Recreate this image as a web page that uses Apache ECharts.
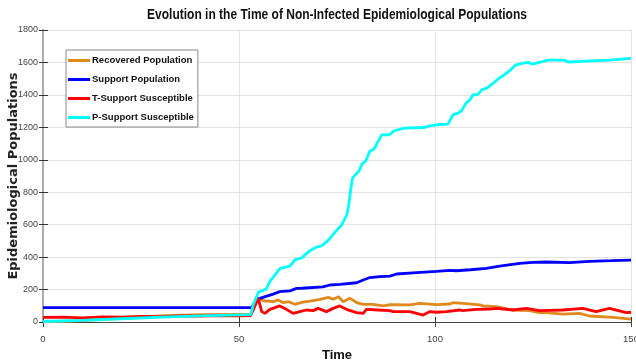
<!DOCTYPE html>
<html>
<head>
<meta charset="utf-8">
<script src="https://cdn.jsdelivr.net/npm/echarts@6/dist/echarts.min.js"></script>
<style>
html,body{margin:0;padding:0;background:#fff;}
#chart{width:636px;height:364px;}
</style>
</head>
<body>
<div id="chart"></div>
<script>
const chartTitle = 'Evolution in the Time of Non-Infected Epidemiological Populations';
const xName = 'Time';
const yName = 'Epidemiological Populations';
const seriesNames = ['Recovered Population', 'Support Population', 'T-Support Susceptible', 'P-Support Susceptible'];
const xTicks = [0, 50, 100, 150];
const yTicks = [0, 200, 400, 600, 800, 1000, 1200, 1400, 1600, 1800];

const recTime   = [0, 10, 20, 30, 40, 53, 54.9, 55.3, 56.2, 58.7, 60, 61.3, 62.6, 64.3, 66, 68.1, 70.7, 72.8, 74, 75.4, 76.6, 78.3, 80, 81.7, 84.2, 86.8, 88.5, 93.6, 96.1, 100.4, 103.8, 104.6, 107.1, 111.4, 112.3, 115.7, 119, 119.9, 124.1, 126.7, 128.4, 132.6, 136.9, 139.4, 145.4, 150];
const recValues = [0, 8, 22, 38, 46, 48, 145, 140, 131, 125, 136, 119, 125, 109, 121, 129, 140, 152, 140, 156, 125, 146, 120, 109, 109, 100, 107, 105, 115, 107, 111, 119, 115, 105, 99, 95, 78, 74, 70, 58, 58, 49, 53, 37, 29, 18];

const supTime   = [0, 53.2, 54.5, 55.3, 58.7, 60.4, 63, 64.7, 66, 71.4, 73.2, 75.7, 80, 81.7, 83.4, 85.9, 88.5, 90.2, 95.3, 100.4, 103.8, 105.4, 109, 113.1, 116.5, 121.6, 125, 128.4, 134.3, 139.4, 145, 150];
const supValues = [88, 88, 140, 146, 172, 187, 192, 207, 208, 216, 228, 232, 242, 259, 274, 280, 283, 296, 304, 312, 318, 316, 322, 331, 345, 362, 368, 370, 366, 374, 378, 382];

const tsTime   = [0, 5, 10, 15, 20, 25, 30, 35, 40, 45, 50, 53, 54.9, 55.8, 56.6, 57.9, 60.4, 62.1, 63.8, 65.5, 67.2, 68.9, 70.2, 72.3, 74, 75.7, 77.4, 80, 81.7, 82.5, 85.5, 88.5, 89.3, 93.6, 97, 98.7, 100.4, 102.9, 106.3, 107, 110.6, 114, 115.7, 119.9, 123.3, 126.7, 129.2, 132.6, 137.7, 141.1, 144.5, 148.8, 150];
const tsValues = [28, 30, 26, 32, 30, 35, 33, 38, 36, 40, 38, 40, 145, 64, 53, 78, 99, 78, 53, 64, 74, 70, 84, 64, 84, 99, 78, 58, 53, 78, 74, 70, 64, 64, 43, 64, 60, 64, 74, 70, 78, 80, 84, 74, 84, 70, 72, 74, 84, 64, 84, 58, 60];

const psTime   = [0, 10, 20, 30, 40, 53, 53.7, 55, 56.2, 57, 58, 58.7, 60.5, 62.2, 63, 64.3, 66, 68.1, 69.8, 71.1, 72.8, 74.9, 76.2, 77.5, 78, 78.5, 79, 80.6, 81.4, 82.3, 83.4, 84.4, 86.4, 88.3, 89.6, 92.2, 97.3, 98.6, 100.7, 103.3, 104.6, 105.9, 106.8, 107.9, 108.9, 109.7, 110.9, 111.9, 113.2, 114.9, 116.2, 117.5, 119.2, 120.5, 122.2, 123.9, 124.8, 126.9, 128.9, 132.9, 134.2, 138.5, 144.5, 150];
const psValues = [3, 10, 20, 30, 38, 45, 112, 185, 195, 205, 255, 275, 330, 340, 345, 385, 395, 440, 462, 470, 505, 565, 598, 660, 720, 820, 890, 930, 975, 992, 1054, 1065, 1154, 1154, 1179, 1195, 1199, 1209, 1216, 1220, 1278, 1287, 1303, 1349, 1369, 1401, 1402, 1431, 1442, 1473, 1500, 1521, 1552, 1583, 1594, 1600, 1589, 1602, 1614, 1614, 1602, 1608, 1614, 1625];

const colors = ['#E08A1E', '#0000FF', '#FF0000', '#00FFFF'];

function pairs(t, v) { return t.map((x, i) => [x, v[i]]); }
const allData = [pairs(recTime, recValues), pairs(supTime, supValues), pairs(tsTime, tsValues), pairs(psTime, psValues)];

const sans = "'Liberation Sans', Arial, sans-serif";
const chart = echarts.init(document.getElementById('chart'), null, {renderer: 'canvas'});
chart.setOption({
  animation: false,
  backgroundColor: '#fff',
  graphic: [{
    type: 'text', x: 337, y: 15, scaleX: 0.8, silent: true,
    style: {text: chartTitle, fontFamily: sans, fontSize: 15, fontWeight: 'bold', fill: '#111', align: 'center', verticalAlign: 'middle'}
  }],
  legend: {
    orient: 'vertical', left: 66, top: 50,
    data: seriesNames,
    icon: 'rect', itemWidth: 22, itemHeight: 3, itemGap: 6,
    padding: [4, 4, 3, 2],
    borderColor: '#888', borderWidth: 1, backgroundColor: '#fff',
    textStyle: {fontFamily: sans, fontSize: 9.5, fontWeight: 'bold', color: '#111', lineHeight: 13, padding: [0, 0, 0, -3]}
  },
  grid: {left: 43, right: 5, top: 30, bottom: 42, containLabel: false, outerBoundsMode: 'none'},
  xAxis: [{
    type: 'value', min: 0, max: 150, interval: 50,
    name: xName, nameLocation: 'middle', nameGap: 27, nameMoveOverlap: false,
    nameTextStyle: {fontFamily: sans, fontSize: 13, fontWeight: 'bold', color: '#111'},
    axisLine: {lineStyle: {color: '#333', width: 1}},
    axisTick: {inside: true, length: 5, lineStyle: {color: '#333'}},
    axisLabel: {fontFamily: sans, fontSize: 9.5, color: '#444', margin: 12,
      formatter: v => xTicks.includes(v) ? String(v) : ''},
    splitLine: {show: true, lineStyle: {color: '#e3e3e3', width: 1}}
  }, {
    type: 'value', position: 'top', min: 0, max: 150, interval: 50,
    axisLine: {lineStyle: {color: '#444', width: 1}},
    axisTick: {inside: true, length: 5, lineStyle: {color: '#444'}},
    axisLabel: {show: false}, splitLine: {show: false}
  }],
  yAxis: [{
    type: 'value', min: 0, max: 1800, interval: 200,
    name: yName, nameLocation: 'middle', nameGap: 23, nameMoveOverlap: false,
    nameTextStyle: {fontFamily: "'DejaVu Sans', sans-serif", fontSize: 13, fontWeight: 'bold', color: '#222'},
    axisLine: {show: true, lineStyle: {color: '#999', width: 1}},
    axisTick: {show: true, inside: true, length: 5, lineStyle: {color: '#333'}},
    axisLabel: {fontFamily: sans, fontSize: 9, color: '#444', margin: 5,
      formatter: v => yTicks.includes(v) ? String(v) : ''},
    splitLine: {show: true, lineStyle: {color: '#e3e3e3', width: 1}}
  }, {
    type: 'value', position: 'right', min: 0, max: 1800, interval: 200,
    axisLine: {show: true, lineStyle: {color: '#aaa', width: 2}},
    axisTick: {show: true, inside: true, length: 4, lineStyle: {color: '#333'}},
    axisLabel: {show: false}, splitLine: {show: false}
  }],
  series: seriesNames.map((n, i) => ({
    name: n, type: 'line', data: allData[i],
    showSymbol: false, symbol: 'none',
    lineStyle: {color: colors[i], width: 2.8},
    itemStyle: {color: colors[i]},
    z: 2 + i
  }))
});
</script>
</body>
</html>
